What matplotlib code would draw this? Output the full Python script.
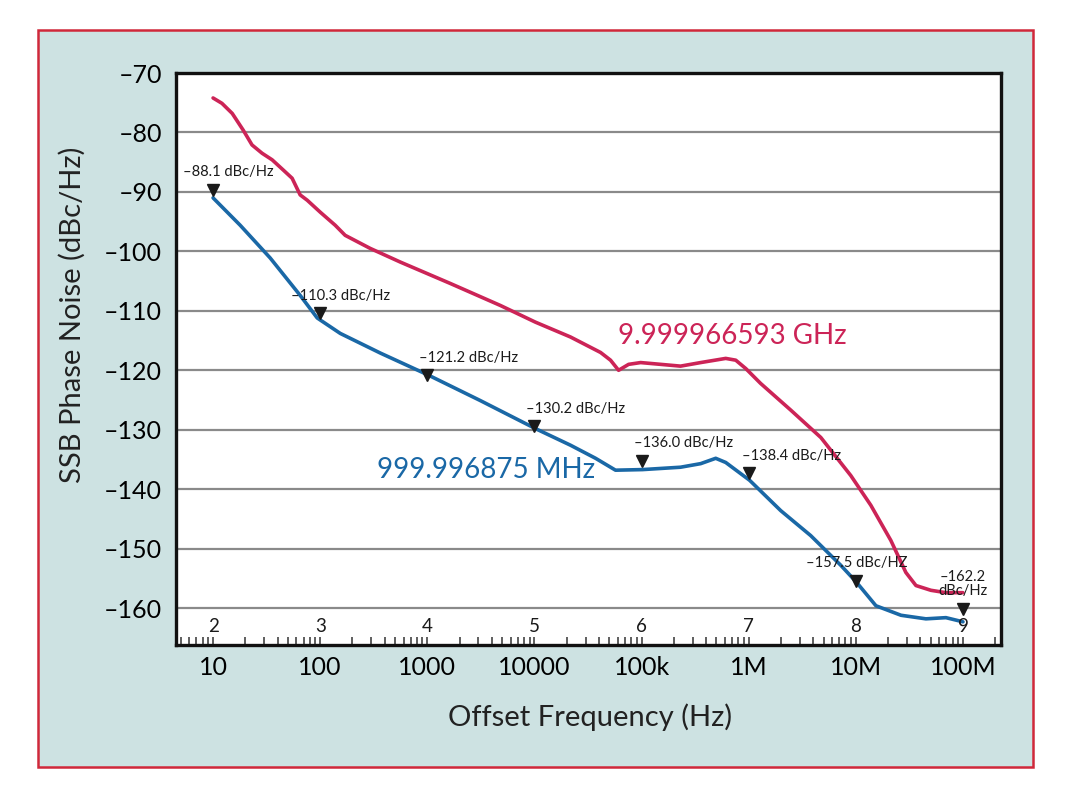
import numpy as np
import matplotlib.pyplot as plt
from matplotlib.patches import Rectangle
from matplotlib.ticker import FixedLocator, LogLocator, NullFormatter

plt.rcParams["font.family"] = ["Lato", "DejaVu Sans"]

# ── data ────────────────────────────────────────────────────────────────────
red_freq = [10, 12.1, 15.1, 19.1, 23.1, 28.7, 35.6, 45.1, 54.7, 65.0, 75.7, 100,
            138, 171, 293, 560, 1640, 4810, 10200, 21700, 41400, 51300, 61000,
            75700, 98000, 150700, 231000, 356000, 610000, 757000, 938000,
            1.29e6, 2.47e6, 4.71e6, 8.97e6, 1.38e7, 2.12e7, 2.93e7, 3.64e7,
            5.02e7, 6.93e7, 1e8]
red_noise = [-74.2, -75.1, -76.8, -79.6, -82.1, -83.5, -84.6, -86.3, -87.7, -90.5,
             -91.4, -93.4, -95.6, -97.3, -99.5, -101.8, -105.4, -109.1, -111.9,
             -114.4, -117.0, -118.3, -120.0, -119.0, -118.7, -119.0, -119.3,
             -118.7, -118.0, -118.3, -119.7, -122.2, -126.7, -131.3, -137.7,
             -142.7, -148.6, -154.0, -156.2, -157.0, -157.4, -157.4]

blue_freq = [10, 17.9, 34.1, 65.0, 93.8, 154, 364, 1020, 3130, 10200, 21700,
             37200, 57100, 102000, 231000, 356000, 492000, 610000, 1.02e6,
             1.99e6, 3.79e6, 7.24e6, 1.02e7, 1.54e7, 2.64e7, 4.51e7, 6.93e7, 1e8]
blue_noise = [-91.0, -95.6, -101.1, -107.4, -111.2, -113.8, -117.1, -120.8, -125.1,
              -129.8, -132.6, -134.8, -136.8, -136.7, -136.3, -135.7, -134.8,
              -135.5, -138.5, -143.6, -147.8, -152.8, -155.7, -159.6, -161.2,
              -161.8, -161.6, -162.3]

marker_freq = [10, 100, 1e3, 1e4, 1e5, 1e6, 1e7, 1e8]
marker_y = [-89.6, -110.4, -120.8, -129.4, -135.2, -137.3, -155.4, -160.1]
marker_text = ["\u201388.1 dBc/Hz", "\u2013110.3 dBc/Hz", "\u2013121.2 dBc/Hz",
               "\u2013130.2 dBc/Hz", "\u2013136.0 dBc/Hz", "\u2013138.4 dBc/Hz",
               "\u2013157.5 dBc/HZ", "\u2013162.2\ndBc/Hz"]

decade_ticks = [10, 100, 1e3, 1e4, 1e5, 1e6, 1e7, 1e8]
decade_labels = ["10", "100", "1000", "10000", "100k", "1M", "10M", "100M"]
decade_index = ["2", "3", "4", "5", "6", "7", "8", "9"]
y_ticks = [-70, -80, -90, -100, -110, -120, -130, -140, -150, -160]

RED = "#cc2457"
BLUE = "#1a68a6"

fig = plt.figure(figsize=(10.8, 7.98), dpi=100)
fig.add_artist(Rectangle((38 / 1080, 1 - 767 / 798), 995 / 1080, 737 / 798,
                         transform=fig.transFigure, facecolor="#cde2e2",
                         edgecolor="#d0283a", linewidth=1.8, zorder=-5))

ax = fig.add_axes([176 / 1080, 1 - 645 / 798, 825 / 1080, 572 / 798])
ax.set_zorder(2)
ax.set_facecolor("white")
ax.set_xscale("log")
ax.set_xlim(10 ** 0.654, 10 ** 8.355)
ax.set_ylim(-166.2, -70)

for h in y_ticks[1:]:
    ax.axhline(h, color="#8a8a8a", linewidth=1.6, zorder=1)

ax.plot(red_freq, red_noise, color=RED, linewidth=2.6, solid_joinstyle="round",
        solid_capstyle="round", zorder=3)
ax.plot(blue_freq, blue_noise, color=BLUE, linewidth=2.6, solid_joinstyle="round",
        solid_capstyle="round", zorder=3)

# markers and their labels
dx_px = [-30, -29, -8, -8, -8, -7, -50, 0]
for f, y, t, dx in zip(marker_freq, marker_y, marker_text, dx_px):
    ax.plot(f, y, marker="v", color="#1a1a1a", markersize=8, zorder=4)
    ha = "center" if "\n" in t else "left"
    ax.annotate(t, (f, y), xytext=(dx / 1.389, 7.5), textcoords="offset points",
                ha=ha, va="bottom", fontsize=10.5, color="#1a1a1a",
                linespacing=1.0, zorder=5)

for f, s in zip(decade_ticks, decade_index):
    ax.text(f, -163.1, s, ha="center", va="center", fontsize=13.5, color="#1a1a1a")

ax.text(59700, -114.3, "9.999966593 GHz", color=RED, fontsize=20, va="center")
ax.text(341, -136.7, "999.996875 MHz", color=BLUE, fontsize=20, va="center")

ax.xaxis.set_major_locator(FixedLocator(decade_ticks))
ax.set_xticklabels(decade_labels)
ax.xaxis.set_minor_locator(LogLocator(base=10, subs=np.arange(2, 10), numticks=20))
ax.xaxis.set_minor_formatter(NullFormatter())
ax.tick_params(axis="x", which="both", direction="in", length=6, width=1.1,
               color="#333333", labelsize=18, pad=8)
ax.set_yticks(y_ticks)
ax.set_yticklabels([f"\u2013{abs(v)}" for v in y_ticks])
ax.tick_params(axis="y", length=0, labelsize=18, pad=10)

for sp in ax.spines.values():
    sp.set_color("#111111")
    sp.set_linewidth(2.4)

fig.text(72 / 1080, 1 - 315 / 798, "SSB Phase Noise (dBc/Hz)", rotation=90,
         ha="center", va="center", fontsize=21, color="#222222")
fig.text(590 / 1080, 1 - 717 / 798, "Offset Frequency (Hz)",
         ha="center", va="center", fontsize=21, color="#222222")

fig.savefig("out.png", dpi=100, facecolor="white")
